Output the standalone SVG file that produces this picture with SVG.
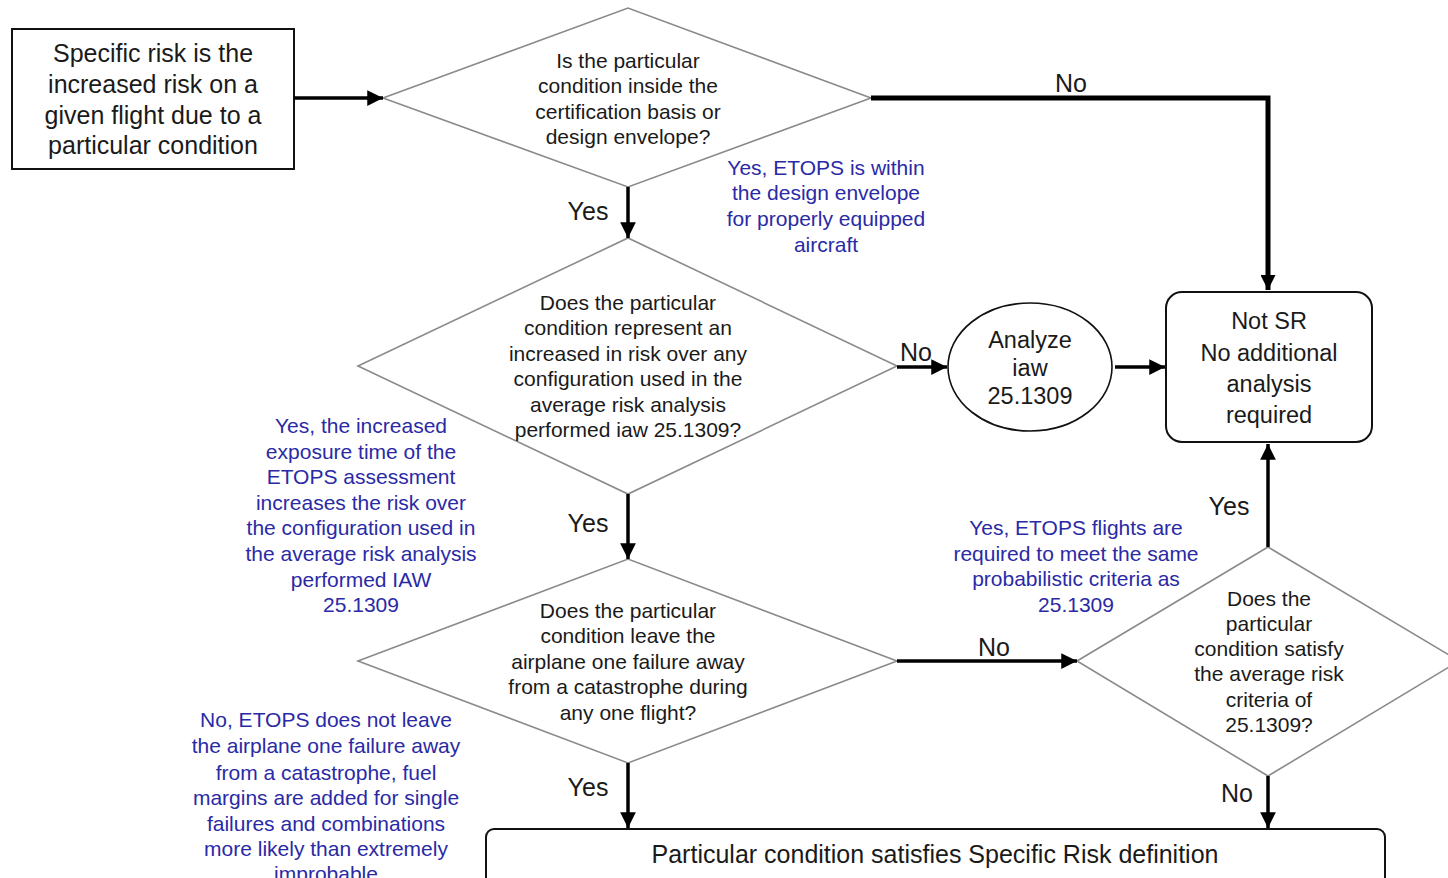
<svg xmlns="http://www.w3.org/2000/svg" width="1448" height="878" viewBox="0 0 1448 878">
<defs>
<marker id="ah" viewBox="0 0 10 10" refX="10" refY="5" markerWidth="4.5" markerHeight="4.5" markerUnits="strokeWidth" orient="auto"><path d="M0,0 L10,5 L0,10 z" fill="#000"/></marker>
<marker id="ah2" viewBox="0 0 10 10" refX="10" refY="5" markerWidth="3" markerHeight="3" markerUnits="strokeWidth" orient="auto"><path d="M0,0 L10,5 L0,10 z" fill="#000"/></marker>
</defs>
<style>
text{font-family:"Liberation Sans",Arial,sans-serif;text-anchor:middle;fill:#1a1a1a}
.d{fill:#fff;stroke:#8a8a8a;stroke-width:1.6}
.b{fill:#fff;stroke:#111;stroke-width:2}
.t21{font-size:21px}
.t23{font-size:23.5px}
.t25{font-size:25px}
.blue{fill:#2a2aa6;font-size:21px}
.c{fill:none;stroke:#000;stroke-width:3.5;marker-end:url(#ah)}
.lbl{font-size:25px}
</style>
<rect width="1448" height="878" fill="#fff"/>

<g id="start">
<rect class="b" x="12" y="29" width="282" height="140"/>
<text class="t25" x="153"><tspan x="153" y="62">Specific risk is the</tspan><tspan x="153" y="93">increased risk on a</tspan><tspan x="153" y="124">given flight due to a</tspan><tspan x="153" y="154">particular condition</tspan></text>
</g>

<g id="q1">
<polygon class="d" points="383,98 628,8 871,98 628,187"/>
<text class="t21"><tspan x="628" y="68">Is the particular</tspan><tspan x="628" y="93">condition inside the</tspan><tspan x="628" y="119">certification basis or</tspan><tspan x="628" y="144">design envelope?</tspan></text>
</g>

<g id="q2">
<polygon class="d" points="358,366 628,238 897,366 628,494"/>
<text class="t21"><tspan x="628" y="310">Does the particular</tspan><tspan x="628" y="335">condition represent an</tspan><tspan x="628" y="361">increased in risk over any</tspan><tspan x="628" y="386">configuration used in the</tspan><tspan x="628" y="412">average risk analysis</tspan><tspan x="628" y="437">performed iaw 25.1309?</tspan></text>
</g>

<g id="analyze">
<ellipse cx="1030" cy="367" rx="82" ry="64" fill="#fff" stroke="#111" stroke-width="1.6"/>
<text class="t23"><tspan x="1030" y="348">Analyze</tspan><tspan x="1030" y="376">iaw</tspan><tspan x="1030" y="404">25.1309</tspan></text>
</g>

<g id="notsr">
<rect class="b" x="1166" y="292" width="206" height="150" rx="16"/>
<text class="t23"><tspan x="1269" y="329">Not SR</tspan><tspan x="1269" y="361">No additional</tspan><tspan x="1269" y="392">analysis</tspan><tspan x="1269" y="423">required</tspan></text>
</g>

<g id="q3">
<polygon class="d" points="358,661 628,559 897,661 628,763"/>
<text class="t21"><tspan x="628" y="618">Does the particular</tspan><tspan x="628" y="643">condition leave the</tspan><tspan x="628" y="669">airplane one failure away</tspan><tspan x="628" y="694">from a catastrophe during</tspan><tspan x="628" y="720">any one flight?</tspan></text>
</g>

<g id="q4">
<polygon class="d" points="1077,661 1268,547 1459,661 1268,776"/>
<text class="t21"><tspan x="1269" y="606">Does the</tspan><tspan x="1269" y="631">particular</tspan><tspan x="1269" y="656">condition satisfy</tspan><tspan x="1269" y="681">the average risk</tspan><tspan x="1269" y="707">criteria of</tspan><tspan x="1269" y="732">25.1309?</tspan></text>
</g>

<g id="result">
<rect class="b" x="486" y="829" width="899" height="70" rx="8"/>
<text class="t25" x="935" y="863">Particular condition satisfies Specific Risk definition</text>
</g>

<g id="notes">
<text class="blue"><tspan x="826" y="175">Yes, ETOPS is within</tspan><tspan x="826" y="200">the design envelope</tspan><tspan x="826" y="226">for properly equipped</tspan><tspan x="826" y="252">aircraft</tspan></text>
<text class="blue"><tspan x="361" y="433">Yes, the increased</tspan><tspan x="361" y="459">exposure time of the</tspan><tspan x="361" y="484">ETOPS assessment</tspan><tspan x="361" y="510">increases the risk over</tspan><tspan x="361" y="535">the configuration used in</tspan><tspan x="361" y="561">the average risk analysis</tspan><tspan x="361" y="587">performed IAW</tspan><tspan x="361" y="612">25.1309</tspan></text>
<text class="blue"><tspan x="1076" y="535">Yes, ETOPS flights are</tspan><tspan x="1076" y="561">required to meet the same</tspan><tspan x="1076" y="586">probabilistic criteria as</tspan><tspan x="1076" y="612">25.1309</tspan></text>
<text class="blue"><tspan x="326" y="727">No, ETOPS does not leave</tspan><tspan x="326" y="753">the airplane one failure away</tspan><tspan x="326" y="780">from a catastrophe, fuel</tspan><tspan x="326" y="805">margins are added for single</tspan><tspan x="326" y="831">failures and combinations</tspan><tspan x="326" y="856">more likely than extremely</tspan><tspan x="326" y="881">improbable</tspan></text>
</g>

<g id="connectors">
<line class="c" x1="294" y1="98" x2="383" y2="98"/>
<polyline points="871,98 1268,98 1268,290" fill="none" stroke="#000" stroke-width="5" marker-end="url(#ah2)"/>
<line class="c" x1="628" y1="187" x2="628" y2="238"/>
<line class="c" x1="897" y1="367" x2="947" y2="367"/>
<line class="c" x1="1115" y1="367" x2="1165" y2="367"/>
<line class="c" x1="628" y1="494" x2="628" y2="559"/>
<line class="c" x1="897" y1="661" x2="1077" y2="661"/>
<line class="c" x1="1268" y1="547" x2="1268" y2="444"/>
<line class="c" x1="628" y1="763" x2="628" y2="828"/>
<line class="c" x1="1268" y1="776" x2="1268" y2="828"/>
<text class="lbl" x="1071" y="92">No</text>
<text class="lbl" x="588" y="220">Yes</text>
<text class="lbl" x="916" y="361">No</text>
<text class="lbl" x="588" y="532">Yes</text>
<text class="lbl" x="994" y="656">No</text>
<text class="lbl" x="1229" y="515">Yes</text>
<text class="lbl" x="588" y="796">Yes</text>
<text class="lbl" x="1237" y="802">No</text>
</g>
</svg>
